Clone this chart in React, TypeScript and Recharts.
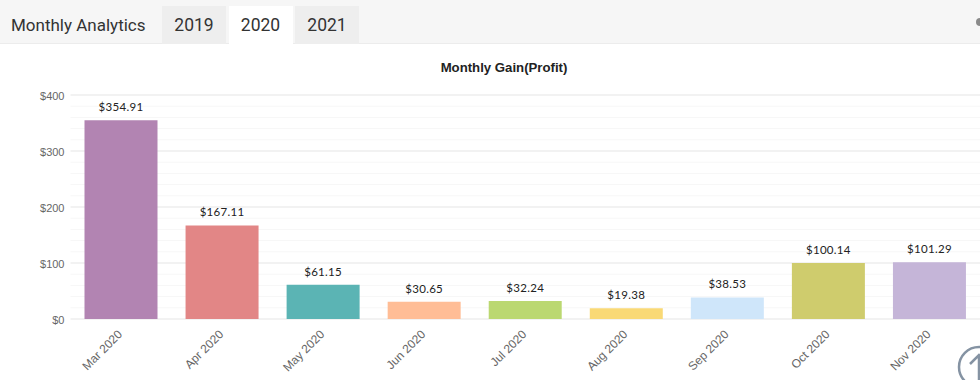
import { BarChart, Bar, Cell, CartesianGrid, LabelList, XAxis, YAxis } from "recharts"

const months = ["Mar 2020", "Apr 2020", "May 2020", "Jun 2020", "Jul 2020", "Aug 2020", "Sep 2020", "Oct 2020", "Nov 2020"]
const gains = [354.91, 167.11, 61.15, 30.65, 32.24, 19.38, 38.53, 100.14, 101.29]
const barColors = ["#b284b2", "#e28686", "#5bb4b4", "#ffbd96", "#bbd871", "#f9d976", "#cfe6fa", "#cfcc6d", "#c5b5d8"]
const years = ["2019", "2020", "2021"]
const activeYear = "2020"
const majorTicks = [0, 100, 200, 300, 400]
const minorTicks = [20, 40, 60, 80, 120, 140, 160, 180, 220, 240, 260, 280, 320, 340, 360, 380]
const allTicks = [...majorTicks, ...minorTicks].sort((a, b) => a - b)

const chartData = months.map((month, i) => ({ month, gain: gains[i] }))

const axisFont = "'Liberation Sans', Arial, sans-serif"

function Header() {
  return (
    <div
      style={{
        position: "absolute",
        left: 0,
        top: 0,
        width: 980,
        height: 43,
        background: "#f6f6f6",
        borderBottom: "1px solid #ececec",
        fontFamily: "Roboto, sans-serif",
        color: "#333",
      }}
    >
      <div style={{ position: "absolute", left: 11, top: 13, fontSize: 17, lineHeight: "24px" }}>Monthly Analytics</div>
      {years.map((year, i) => (
        <div
          key={year}
          style={{
            position: "absolute",
            left: 162 + i * 66.5,
            top: 6,
            width: 64,
            height: 38,
            background: year === activeYear ? "#fff" : "#eeeeee",
            textAlign: "center",
            fontSize: 17.5,
            lineHeight: "38px",
          }}
        >
          {year}
        </div>
      ))}
      <div style={{ position: "absolute", left: 976, top: 18, width: 8, height: 8, borderRadius: 4, background: "#8a8a8a" }} />
    </div>
  )
}

export default function App() {
  return (
    <div style={{ position: "absolute", left: 0, top: 0, width: 980, height: 380, overflow: "hidden", background: "#fff" }}>
      <div style={{ position: "absolute", left: 0, top: 44 }}>
        <BarChart
          width={1000}
          height={336}
          data={chartData}
          margin={{ top: 51, right: 20, left: 0, bottom: 0 }}
        >
          <CartesianGrid horizontalValues={minorTicks} vertical={false} stroke="#f7f7f7" />
          <CartesianGrid horizontalValues={majorTicks} vertical={false} stroke="#eeeeee" strokeWidth={1.5} />
          <XAxis
            dataKey="month"
            axisLine={false}
            tickLine={false}
            interval={0}
            angle={-45}
            textAnchor="end"
            height={61}
            tick={{ fontSize: 12, fill: "#666", fontFamily: axisFont, dx: -4, dy: 2 }}
          />
          <YAxis
            domain={[0, 400]}
            ticks={allTicks}
            interval={0}
            width={70.5}
            axisLine={false}
            tickLine={false}
            tickMargin={0}
            tickFormatter={(v: number) => (v % 100 === 0 ? `$${v}` : "")}
            tick={{ fontSize: 11, fill: "#666", fontFamily: axisFont, dy: 1 }}
          />
          <Bar dataKey="gain" barSize={73} isAnimationActive={false}>
            {chartData.map((d, i) => (
              <Cell key={d.month} fill={barColors[i]} />
            ))}
            <LabelList
              dataKey="gain"
              position="top"
              offset={9}
              formatter={(v: number) => `$${v.toFixed(2)}`}
              style={{ fontSize: 11.5, fill: "#222", fontFamily: "Lato, sans-serif", letterSpacing: 0.3 }}
            />
          </Bar>
        </BarChart>
      </div>
      <Header />
      <div
        style={{
          position: "absolute",
          left: 304,
          width: 400,
          top: 60,
          textAlign: "center",
          fontFamily: axisFont,
          fontWeight: 700,
          fontSize: 13.2,
          lineHeight: "16px",
          color: "#222",
        }}
      >
        Monthly Gain(Profit)
      </div>
      <svg style={{ position: "absolute", left: 950, top: 360, overflow: "visible" }} width={40} height={20}>
        <circle cx={29} cy={7} r={20} fill="#fff" stroke="#8593a3" strokeWidth={2.5} />
        <path d="M29 -5 V20 M20 4 L29 -5 L38 4" fill="none" stroke="#8593a3" strokeWidth={2.5} />
      </svg>
    </div>
  )
}
